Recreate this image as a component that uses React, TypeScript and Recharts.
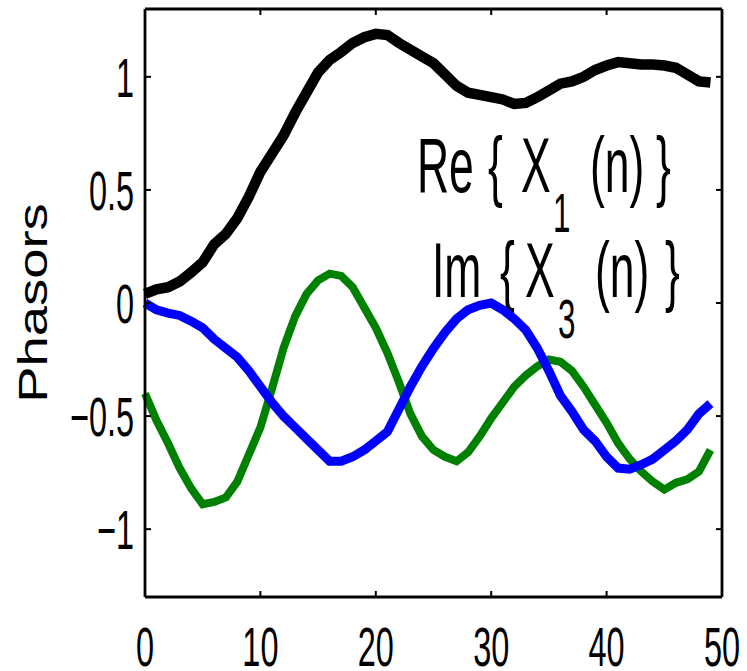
import React from 'react';
import { LineChart, Line, XAxis, YAxis, Customized } from 'recharts';

const nIndex = [0,1,2,3,4,5,6,7,8,9,10,11,12,13,14,15,16,17,18,19,20,21,22,23,24,25,26,27,28,29,30,31,32,33,34,35,36,37,38,39,40,41,42,43,44,45,46,47,48,49];

const seriesBlack = [0.04,0.06,0.07,0.095,0.135,0.18,0.26,0.305,0.375,0.47,0.58,0.66,0.74,0.84,0.93,1.02,1.075,1.11,1.15,1.175,1.19,1.185,1.15,1.12,1.09,1.06,1.01,0.96,0.93,0.92,0.91,0.90,0.88,0.885,0.91,0.94,0.97,0.98,1.00,1.03,1.05,1.065,1.06,1.055,1.055,1.05,1.04,1.01,0.98,0.975];

const seriesBlue = [0.0,-0.03,-0.045,-0.055,-0.08,-0.11,-0.16,-0.20,-0.24,-0.30,-0.37,-0.44,-0.50,-0.55,-0.60,-0.65,-0.70,-0.70,-0.68,-0.65,-0.61,-0.57,-0.47,-0.37,-0.28,-0.20,-0.13,-0.07,-0.03,-0.01,0.0,-0.03,-0.07,-0.12,-0.20,-0.30,-0.41,-0.48,-0.56,-0.61,-0.68,-0.73,-0.735,-0.715,-0.69,-0.65,-0.61,-0.56,-0.49,-0.445];

const seriesGreen = [-0.40,-0.52,-0.62,-0.73,-0.82,-0.89,-0.88,-0.86,-0.79,-0.67,-0.55,-0.38,-0.20,-0.06,0.04,0.10,0.13,0.12,0.07,-0.02,-0.11,-0.22,-0.35,-0.49,-0.59,-0.65,-0.68,-0.70,-0.66,-0.59,-0.51,-0.44,-0.37,-0.32,-0.28,-0.25,-0.26,-0.30,-0.37,-0.45,-0.53,-0.62,-0.69,-0.745,-0.79,-0.825,-0.795,-0.78,-0.745,-0.65];

const xTicks = [0, 10, 20, 30, 40, 50];
const yTicks = [-1, -0.5, 0, 0.5, 1];
const yLabel = 'Phasors';

const data = nIndex.map((n, i) => ({
  n,
  black: seriesBlack[i],
  blue: seriesBlue[i],
  green: seriesGreen[i],
}));

const FONT = '"Liberation Sans", Arial, sans-serif';
const TICK_FS = 55;
const SX = 0.59;
const PLOT_LEFT = 145;
const PLOT_RIGHT = 722;
const PLOT_TOP = 9;
const PLOT_BOTTOM = 597;
const TL = 6;

const fmt = (v: number) => String(v).replace('-', '\u2212');

const BottomTick = (props: any) => {
  const { x, payload } = props;
  return (
    <g>
      <line x1={x} y1={PLOT_BOTTOM} x2={x} y2={PLOT_BOTTOM - TL} stroke="#000" strokeWidth={2} />
      <text
        transform={`translate(${x},666) scale(${SX},1)`}
        textAnchor="middle"
        fontSize={TICK_FS}
        fontFamily={FONT}
        fill="#000"
      >
        {fmt(payload.value)}
      </text>
    </g>
  );
};

const TopTick = (props: any) => {
  const { x } = props;
  return <line x1={x} y1={PLOT_TOP} x2={x} y2={PLOT_TOP + TL} stroke="#000" strokeWidth={2} />;
};

const LeftTick = (props: any) => {
  const { y, payload } = props;
  return (
    <g>
      <line x1={PLOT_LEFT} y1={y} x2={PLOT_LEFT + TL} y2={y} stroke="#000" strokeWidth={2} />
      <text
        transform={`translate(134,${y + 20}) scale(${SX},1)`}
        textAnchor="end"
        fontSize={TICK_FS}
        fontFamily={FONT}
        fill="#000"
      >
        {fmt(payload.value)}
      </text>
    </g>
  );
};

const RightTick = (props: any) => {
  const { y } = props;
  return <line x1={PLOT_RIGHT} y1={y} x2={PLOT_RIGHT - TL} y2={y} stroke="#000" strokeWidth={2} />;
};

const T = ({ x, y, size, children }: any) => (
  <text
    transform={`translate(${x},${y}) scale(0.57,1)`}
    fontSize={size}
    fontFamily={FONT}
    fill="#000"
  >
    {children}
  </text>
);

const Annotation = () => (
  <g>
    <T x={417} y={192} size={78}>Re</T>
    <T x={488} y={192} size={78}>{'{'}</T>
    <T x={521} y={192} size={78}>X</T>
    <T x={553} y={232} size={55}>1</T>
    <T x={590} y={192} size={78}>(n)</T>
    <T x={656} y={192} size={78}>{'}'}</T>

    <T x={432} y={297} size={78}>Im</T>
    <T x={500} y={297} size={78}>{'{'}</T>
    <T x={525} y={297} size={78}>X</T>
    <T x={558} y={338} size={55}>3</T>
    <T x={595} y={297} size={78}>(n)</T>
    <T x={665} y={297} size={78}>{'}'}</T>

    <text
      transform="translate(47,303) rotate(-90) scale(1.36,1)"
      textAnchor="middle"
      fontSize={40}
      fontFamily={FONT}
      fill="#000"
    >
      {yLabel}
    </text>
  </g>
);

export default function App() {
  return (
    <div style={{ position: 'absolute', left: 0, top: 0, width: 747, height: 671, background: '#fff' }}>
      <LineChart
        width={747}
        height={671}
        data={data}
        margin={{ top: PLOT_TOP - 1, right: 747 - PLOT_RIGHT - 1, bottom: 0, left: 0 }}
      >
        <XAxis
          dataKey="n"
          type="number"
          domain={[0, 50]}
          ticks={xTicks}
          height={671 - PLOT_BOTTOM}
          tickLine={false}
          tickSize={0}
          tickMargin={0}
          axisLine={{ stroke: '#000', strokeWidth: 2.8 }}
          tick={<BottomTick />}
          interval={0}
        />
        <XAxis
          xAxisId="top"
          orientation="top"
          dataKey="n"
          type="number"
          domain={[0, 50]}
          ticks={xTicks}
          height={1}
          tickLine={false}
          tickSize={0}
          tickMargin={0}
          axisLine={{ stroke: '#000', strokeWidth: 2.8 }}
          tick={<TopTick />}
          interval={0}
        />
        <YAxis
          type="number"
          domain={[-1.3, 1.3]}
          ticks={yTicks}
          width={PLOT_LEFT}
          tickLine={false}
          tickSize={0}
          tickMargin={0}
          axisLine={{ stroke: '#000', strokeWidth: 2.8 }}
          tick={<LeftTick />}
          interval={0}
          allowDataOverflow
        />
        <YAxis
          yAxisId="right"
          orientation="right"
          type="number"
          domain={[-1.3, 1.3]}
          ticks={yTicks}
          width={1}
          tickLine={false}
          tickSize={0}
          tickMargin={0}
          axisLine={{ stroke: '#000', strokeWidth: 2.8 }}
          tick={<RightTick />}
          interval={0}
          allowDataOverflow
        />
        <Line type="linear" dataKey="black" stroke="#000000" strokeWidth={10.5} dot={false} isAnimationActive={false} />
        <Line type="linear" dataKey="green" stroke="#008000" strokeWidth={8} dot={false} isAnimationActive={false} />
        <Line type="linear" dataKey="blue" stroke="#0000ff" strokeWidth={9} dot={false} isAnimationActive={false} />
        <Customized component={Annotation} />
      </LineChart>
    </div>
  );
}
